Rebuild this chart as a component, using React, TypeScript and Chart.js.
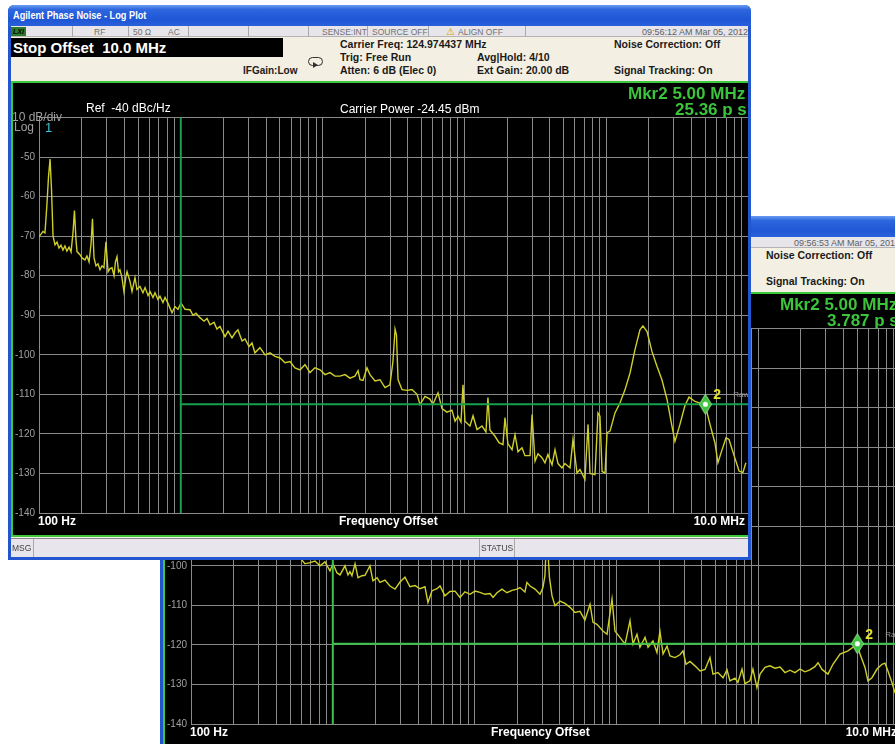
import React, { useEffect, useRef } from "react";
import { Chart, registerables } from "chart.js";

Chart.register(...registerables);

const FONT = "'Liberation Sans', Arial, Helvetica, sans-serif";

// ---- axes ----
const FREQ_MIN_HZ = 100;
const FREQ_MAX_HZ = 10000000;
const DBC_MIN = -140;
const DBC_MAX = -40;
const DBC_STEP = 10;
const Y_LABEL_HIDDEN = -40;
const GRID_FREQS_HZ = [
  100, 200, 300, 400, 500, 600, 700, 800, 900,
  1000, 2000, 3000, 4000, 5000, 6000, 7000, 8000, 9000,
  10000, 20000, 30000, 40000, 50000, 60000, 70000, 80000, 90000,
  100000, 200000, 300000, 400000, 500000, 600000, 700000, 800000, 900000,
  1000000, 2000000, 3000000, 4000000, 5000000, 6000000, 7000000, 8000000, 9000000,
  10000000,
];

// ---- markers / integration range ----
const INTEG_START_HZ = 1000;
const MARKER_HZ = 5000000;
const FRONT_MARKER_DBC = -112.5;
const BACK_MARKER_DBC = -119.7;

// ---- front trace (log10 of offset in Hz, dBc/Hz) ----
const frontLogHz = [
  2.000, 2.014, 2.028, 2.042, 2.056, 2.067, 2.078, 2.088, 2.099, 2.113,
  2.127, 2.141, 2.155, 2.169, 2.183, 2.197, 2.212, 2.226, 2.240, 2.250,
  2.261, 2.268, 2.289, 2.303, 2.324, 2.338, 2.353, 2.367, 2.377, 2.388,
  2.402, 2.416, 2.430, 2.444, 2.458, 2.472, 2.487, 2.501, 2.515, 2.529,
  2.539, 2.550, 2.561, 2.571, 2.585, 2.599, 2.614, 2.621, 2.642, 2.656,
  2.677, 2.691, 2.712, 2.733, 2.748, 2.769, 2.783, 2.804, 2.818, 2.839,
  2.853, 2.874, 2.889, 2.910, 2.938, 2.959, 2.980, 3.001, 3.030, 3.065,
  3.086, 3.107, 3.135, 3.164, 3.185, 3.206, 3.234, 3.255, 3.276, 3.312,
  3.333, 3.361, 3.382, 3.403, 3.432, 3.453, 3.481, 3.502, 3.523, 3.558,
  3.594, 3.629, 3.664, 3.700, 3.735, 3.770, 3.805, 3.841, 3.876, 3.911,
  3.946, 3.982, 4.017, 4.052, 4.087, 4.123, 4.158, 4.193, 4.228, 4.250,
  4.264, 4.285, 4.313, 4.334, 4.370, 4.405, 4.440, 4.475, 4.496, 4.511,
  4.521, 4.532, 4.560, 4.595, 4.630, 4.666, 4.687, 4.722, 4.757, 4.778,
  4.814, 4.842, 4.877, 4.912, 4.934, 4.955, 4.976, 4.990, 5.004, 5.039,
  5.061, 5.089, 5.124, 5.152, 5.166, 5.180, 5.216, 5.244, 5.272, 5.286,
  5.307, 5.336, 5.357, 5.378, 5.406, 5.427, 5.463, 5.477, 5.498, 5.519,
  5.547, 5.568, 5.589, 5.618, 5.639, 5.660, 5.688, 5.709, 5.745, 5.766,
  5.794, 5.815, 5.850, 5.872, 5.886, 5.921, 5.942, 5.956, 5.971, 5.992,
  6.006, 6.027, 6.062, 6.097, 6.133, 6.168, 6.203, 6.238, 6.259, 6.288,
  6.323, 6.358, 6.393, 6.429, 6.464, 6.485, 6.520, 6.555, 6.584, 6.626,
  6.661, 6.697, 6.732, 6.767, 6.788, 6.810, 6.845, 6.866, 6.902, 6.937,
  6.964, 6.985,
];
const frontDbc = [
  -70.1, -69.5, -68.8, -69.2, -62, -55, -50.5, -58, -70, -72.2,
  -71.5, -73, -72.3, -73.5, -72.5, -73.8, -72.8, -74, -69, -63.5,
  -71, -73.9, -74.7, -75.5, -76, -75, -76.5, -72, -65.6, -75.5,
  -77.5, -77, -78.5, -77.5, -78, -71.4, -79, -78.2, -78, -80,
  -76.5, -75.2, -79, -78.5, -80.5, -84, -80, -79, -81.5, -84,
  -80.5, -83.5, -82.7, -84.3, -83, -85, -84, -85.5, -84.3, -86,
  -85.2, -86.8, -85.5, -87, -89.4, -87.8, -88.5, -86.9, -88.5, -88.6,
  -90, -89.5, -90.6, -91.5, -90.8, -92.4, -91.8, -93.5, -92.8, -95.4,
  -94, -95.7, -94.5, -93.7, -96.5, -96, -97.9, -97, -99.5, -98.2,
  -100, -99.5, -100.4, -100.8, -102, -101.7, -103.3, -103.8, -102.5, -104.5,
  -103.3, -103.8, -105, -104.5, -105.4, -105.4, -105, -105.9, -105.4, -104,
  -106.3, -106.5, -103.3, -105, -106.6, -106.3, -108.3, -107.6, -101.7, -93.5,
  -95, -106.3, -108.8, -109, -108.8, -110, -112.6, -110.5, -111.2, -112.5,
  -109.6, -113.6, -114.5, -114, -116.8, -115.5, -117, -107.6, -116.8, -118,
  -115.4, -118.9, -118, -119.5, -110.8, -119, -120.6, -122.2, -122.7, -115.9,
  -122.5, -124, -120.2, -124.5, -123.5, -125.5, -125.5, -115.1, -126.9, -125,
  -126, -127.3, -125.2, -127.8, -124, -127.5, -128.6, -127.5, -128.6, -121.4,
  -129.9, -129, -131.5, -117.6, -130, -130.3, -114.7, -115.5, -129.5, -129.9,
  -119.7, -119.3, -114.7, -112.2, -108.8, -104.6, -98.7, -93.7, -92.7, -94.1,
  -99.2, -102.9, -106.3, -111.3, -118.1, -121.9, -117.6, -112.9, -110.7, -111.8,
  -112.2, -112.5, -117.6, -122.3, -127.3, -124.8, -121, -121.4, -125.5, -129.4,
  -129.8, -127.3,
];

// ---- back trace ----
const backLogHz = [
  2.000, 2.169, 2.346, 2.522, 2.663, 2.769, 2.804, 2.839, 2.874, 2.910,
  2.945, 2.980, 3.001, 3.030, 3.051, 3.086, 3.107, 3.121, 3.135, 3.157,
  3.178, 3.206, 3.227, 3.262, 3.283, 3.312, 3.333, 3.368, 3.403, 3.439,
  3.474, 3.509, 3.544, 3.580, 3.615, 3.650, 3.671, 3.700, 3.735, 3.756,
  3.791, 3.826, 3.862, 3.897, 3.932, 3.968, 4.003, 4.038, 4.073, 4.109,
  4.130, 4.158, 4.193, 4.228, 4.264, 4.299, 4.320, 4.355, 4.369, 4.391,
  4.426, 4.461, 4.482, 4.496, 4.507, 4.518, 4.528, 4.546, 4.567, 4.602,
  4.637, 4.673, 4.708, 4.743, 4.778, 4.814, 4.835, 4.863, 4.905, 4.934,
  4.969, 4.990, 5.025, 5.061, 5.096, 5.117, 5.145, 5.166, 5.202, 5.223,
  5.258, 5.286, 5.307, 5.329, 5.357, 5.378, 5.413, 5.448, 5.470, 5.491,
  5.519, 5.554, 5.590, 5.625, 5.660, 5.681, 5.716, 5.752, 5.780, 5.801,
  5.836, 5.857, 5.886, 5.907, 5.942, 5.963, 5.991, 6.013, 6.048, 6.083,
  6.118, 6.154, 6.189, 6.224, 6.259, 6.295, 6.330, 6.365, 6.400, 6.422,
  6.450, 6.492, 6.527, 6.577, 6.633, 6.668, 6.697, 6.718, 6.753, 6.774,
  6.802, 6.838, 6.873, 6.894, 6.915, 6.943, 6.964, 6.985,
];
const backDbc = [
  -72, -75, -80, -86, -94, -98, -99.5, -99.2, -98.8, -100,
  -99, -101.3, -99.5, -101.8, -102.3, -100, -102.3, -101.5, -102.5, -99.5,
  -103, -102.5, -102.4, -100, -103.8, -103, -104.2, -103.6, -105.1, -105.9,
  -104.1, -102.9, -105.3, -105, -105.8, -105.3, -109.3, -106.3, -105.8, -105.1,
  -107.6, -106.5, -106.4, -108, -106.6, -107.2, -106.4, -106.7, -107.2, -107,
  -108, -106.8, -105.9, -106.8, -106.2, -105.9, -105.5, -106.6, -104.2, -105.1,
  -105.9, -107.2, -105.5, -102.5, -93, -97, -103, -107.6, -110.1, -108.9,
  -109.5, -110.5, -111.8, -111.5, -113.7, -109.7, -114.3, -114.8, -116.5, -117.3,
  -108.4, -116.5, -118.1, -119.8, -113.9, -119.8, -117.3, -120.6, -118.1, -120.6,
  -119, -121.9, -116.5, -122.3, -120.3, -122.8, -123.2, -122.5, -121.5, -124.9,
  -124.2, -125.3, -126.6, -126.2, -123.2, -127.4, -127, -128.3, -126.3, -129.1,
  -128.4, -129.5, -126.1, -129.8, -129.1, -126.1, -130.8, -127.4, -125.7, -125.3,
  -125.9, -125.6, -127, -126.4, -127, -126.1, -126.8, -126.3, -125.5, -124.5,
  -126.2, -127.4, -124.9, -122.3, -121.5, -120.6, -119.8, -122.3, -125.7, -129.1,
  -128.3, -126.1, -124.9, -124.6, -126.6, -129.5, -132, -133,
];

// ---- texts ----
const WINDOW_TITLE = "Agilent Phase Noise - Log Plot";
const FRONT_DATE = "09:56:12 AM Mar 05, 2012";
const BACK_DATE = "09:56:53 AM Mar 05, 2012";
const FRONT_JITTER = "25.36 p s";
const BACK_JITTER = "3.787 p s";

const GRID_COLOR = "#8a8a8a";

function Txt(props: any) {
  const { x, y, size, color = "#000", bold = false, right, scaleX, children } = props;
  return (
    <div
      style={{
        position: "absolute",
        left: right === undefined ? x : undefined,
        right,
        top: y,
        fontSize: size,
        lineHeight: 1,
        color,
        fontWeight: bold ? 700 : 400,
        whiteSpace: "nowrap",
        fontFamily: FONT,
        transform: scaleX ? `scaleX(${scaleX})` : undefined,
        transformOrigin: "left top",
      }}
    >
      {children}
    </div>
  );
}

type WinProps = {
  left: number;
  top: number;
  logHz: number[];
  dbc: number[];
  markerDbc: number;
  date: string;
  jitter: string;
  lineGreen: string;
};

function PhaseNoiseWindow(p: WinProps) {
  const canvasRef = useRef<HTMLCanvasElement | null>(null);

  useEffect(() => {
    const canvas = canvasRef.current;
    if (!canvas) return;

    const diamond = document.createElement("canvas");
    diamond.width = 13;
    diamond.height = 21;
    const d = diamond.getContext("2d")!;
    d.beginPath();
    d.moveTo(6.5, 0.5);
    d.lineTo(12.5, 10.5);
    d.lineTo(6.5, 20.5);
    d.lineTo(0.5, 10.5);
    d.closePath();
    d.fillStyle = "#3cc23c";
    d.fill();
    d.strokeStyle = "#9be89b";
    d.lineWidth = 1;
    d.stroke();
    d.beginPath();
    d.arc(6.5, 10.5, 2.6, 0, Math.PI * 2);
    d.fillStyle = "#ffffff";
    d.fill();

    const trace = p.logHz.map((lf, i) => ({ x: Math.pow(10, lf), y: p.dbc[i] }));

    const markerLabel = {
      id: "markerLabel",
      afterDatasetsDraw(chart: any) {
        const pt = chart.getDatasetMeta(0).data[0];
        if (!pt) return;
        const ctx = chart.ctx;
        ctx.save();
        ctx.textBaseline = "middle";
        ctx.fillStyle = "#e4e42c";
        ctx.font = `bold 14px ${FONT}`;
        ctx.fillText("2", pt.x + 8, pt.y - 9);
        ctx.fillStyle = "#9a9a9a";
        ctx.font = `8px ${FONT}`;
        ctx.fillText("Raw", pt.x + 28, pt.y - 9);
        ctx.restore();
      },
    };

    const chart = new Chart(canvas, {
      type: "line",
      data: {
        datasets: [
          {
            data: [{ x: MARKER_HZ, y: p.markerDbc }],
            pointStyle: diamond as any,
            pointRadius: 8,
            showLine: false,
            borderWidth: 0,
            clip: false,
          },
          {
            data: [
              { x: INTEG_START_HZ, y: DBC_MAX },
              { x: INTEG_START_HZ, y: DBC_MIN },
            ],
            borderColor: p.lineGreen,
            borderWidth: 2,
            pointRadius: 0,
          },
          {
            data: [
              { x: INTEG_START_HZ, y: p.markerDbc },
              { x: FREQ_MAX_HZ, y: p.markerDbc },
            ],
            borderColor: p.lineGreen,
            borderWidth: 2,
            pointRadius: 0,
          },
          {
            data: trace,
            borderColor: "#cfcf2a",
            borderWidth: 1.4,
            pointRadius: 0,
          },
        ],
      } as any,
      options: {
        responsive: false,
        animation: false,
        devicePixelRatio: 1,
        layout: { autoPadding: false, padding: { top: 34.5, bottom: 22, left: 0, right: 0 } },
        plugins: { legend: { display: false }, tooltip: { enabled: false } },
        elements: { line: { tension: 0 } },
        scales: {
          x: {
            type: "logarithmic",
            min: FREQ_MIN_HZ,
            max: FREQ_MAX_HZ,
            afterBuildTicks: (s: any) => {
              s.ticks = GRID_FREQS_HZ.map((v) => ({ value: v }));
            },
            afterFit: (s: any) => {
              s.height = 0;
            },
            ticks: { display: false },
            grid: { color: GRID_COLOR, lineWidth: 1, drawTicks: false },
            border: { display: false },
          },
          y: {
            type: "linear",
            min: DBC_MIN,
            max: DBC_MAX,
            afterFit: (s: any) => {
              s.width = 26;
            },
            ticks: {
              stepSize: DBC_STEP,
              color: "#a0a0a0",
              padding: 4,
              font: { size: 10, family: FONT },
              callback: (v: any) => (v === Y_LABEL_HIDDEN ? "" : String(v)),
            },
            grid: { color: GRID_COLOR, lineWidth: 1, drawTicks: false },
            border: { display: false },
          },
        },
      } as any,
      plugins: [markerLabel],
    });
    return () => chart.destroy();
  }, []);

  const dividers = [64, 120, 180, 240, 300, 359, 420, 517];

  return (
    <div
      style={{
        position: "absolute",
        left: p.left,
        top: p.top,
        width: 743,
        height: 555,
        background: "#2256cf",
        borderRadius: "6px 6px 0 0",
        overflow: "hidden",
        fontFamily: FONT,
      }}
    >
      {/* title bar */}
      <div
        style={{
          position: "absolute",
          left: 0,
          top: 0,
          width: 743,
          height: 21,
          background: "linear-gradient(to bottom, #6a9cf2 0%, #2d66de 22%, #1e56d6 70%, #2a60da 100%)",
        }}
      />
      <Txt x={5} y={5} size={11.5} bold color="#ffffff" scaleX={0.8}>
        {WINDOW_TITLE}
      </Txt>

      {/* content background */}
      <div style={{ position: "absolute", left: 3, top: 21, width: 737, height: 531, background: "#f3efe2" }} />

      {/* status row */}
      <div
        style={{
          position: "absolute",
          left: 3,
          top: 21,
          width: 737,
          height: 11,
          background: "#e7e5ea",
          borderBottom: "1px solid #b4b4b4",
          boxSizing: "border-box",
        }}
      />
      {dividers.map((x) => (
        <div key={x} style={{ position: "absolute", left: x, top: 21, width: 1, height: 11, background: "#a8a8a8" }} />
      ))}
      <div
        style={{
          position: "absolute",
          left: 3,
          top: 22,
          width: 15,
          height: 9,
          background: "#2d7a2d",
          color: "#000",
          fontSize: 7,
          fontWeight: 700,
          fontStyle: "italic",
          lineHeight: "9px",
          textAlign: "center",
          fontFamily: FONT,
        }}
      >
        LXI
      </div>
      <Txt x={86} y={23} size={8.5} color="#707070">RF</Txt>
      <Txt x={125} y={23} size={8.5} color="#707070">50 Ω</Txt>
      <Txt x={160} y={23} size={8.5} color="#707070">AC</Txt>
      <Txt x={314} y={23} size={8.5} color="#707070">SENSE:INT</Txt>
      <Txt x={364} y={23} size={8.5} color="#707070">SOURCE OFF</Txt>
      <Txt x={438} y={22} size={10} color="#d8a800">⚠</Txt>
      <Txt x={450} y={23} size={8.5} color="#707070">ALIGN OFF</Txt>
      <Txt right={3} y={23} size={9} color="#606060">{p.date}</Txt>

      {/* stop offset box */}
      <div style={{ position: "absolute", left: 3, top: 33, width: 272, height: 19, background: "#000" }} />
      <Txt x={5} y={35} size={15} bold color="#ffffff">Stop Offset&nbsp;&nbsp;10.0 MHz</Txt>

      {/* info panel */}
      <Txt x={235} y={61} size={10} bold color="#202020">IFGain:Low</Txt>
      <div
        style={{
          position: "absolute",
          left: 300,
          top: 52,
          width: 13,
          height: 7,
          border: "1.5px solid #303030",
          borderRadius: 5,
        }}
      />
      <div
        style={{
          position: "absolute",
          left: 305,
          top: 57,
          width: 0,
          height: 0,
          borderTop: "3px solid transparent",
          borderBottom: "3px solid transparent",
          borderLeft: "5px solid #303030",
        }}
      />
      <Txt x={332} y={34} size={10.5} bold color="#1a1a1a">Carrier Freq: 124.974437 MHz</Txt>
      <Txt x={332} y={47} size={10.5} bold color="#1a1a1a">Trig: Free Run</Txt>
      <Txt x={332} y={60} size={10.5} bold color="#1a1a1a">Atten: 6 dB (Elec 0)</Txt>
      <Txt x={469} y={47} size={10.5} bold color="#1a1a1a">Avg|Hold: 4/10</Txt>
      <Txt x={469} y={60} size={10.5} bold color="#1a1a1a">Ext Gain: 20.00 dB</Txt>
      <Txt x={606} y={34} size={10.5} bold color="#1a1a1a">Noise Correction: Off</Txt>
      <Txt x={606} y={60} size={10.5} bold color="#1a1a1a">Signal Tracking: On</Txt>

      {/* plot frame */}
      <div
        style={{
          position: "absolute",
          left: 3,
          top: 76,
          width: 737,
          height: 456,
          background: "#000",
          borderTop: "2px solid #3cc83c",
          borderLeft: "2px solid #3cc83c",
          borderBottom: "2px solid #3cc83c",
          boxSizing: "border-box",
        }}
      />
      <canvas
        ref={canvasRef}
        width={735}
        height={452}
        style={{ position: "absolute", left: 5, top: 78, width: 735, height: 452, display: "block" }}
      />
      <Txt x={620} y={80} size={17} bold color="#3cc43c">Mkr2 5.00 MHz</Txt>
      <Txt x={667} y={96} size={17} bold color="#3cc43c">{p.jitter}</Txt>
      <Txt x={4} y={106} size={12} color="#a0a0a0">10 dB/div</Txt>
      <Txt x={6} y={116} size={12} color="#a0a0a0">Log</Txt>
      <Txt x={37} y={116} size={13} color="#3fc6d6">1</Txt>
      <Txt x={78} y={97} size={12} color="#ffffff">Ref&nbsp;&nbsp;-40 dBc/Hz</Txt>
      <Txt x={332} y={98} size={12} color="#ffffff">Carrier Power -24.45 dBm</Txt>
      <Txt x={30} y={510} size={12} bold color="#ffffff">100 Hz</Txt>
      <Txt x={331} y={510} size={12} bold color="#ffffff">Frequency Offset</Txt>
      <Txt right={6} y={510} size={12} bold color="#ffffff">10.0 MHz</Txt>

      {/* message bar */}
      <div
        style={{
          position: "absolute",
          left: 3,
          top: 533,
          width: 737,
          height: 19,
          background: "#e8e6ec",
          borderTop: "1px solid #8a8a8a",
          boxSizing: "border-box",
        }}
      />
      <div style={{ position: "absolute", left: 25, top: 534, width: 1, height: 18, background: "#a8a8a8" }} />
      <div style={{ position: "absolute", left: 471, top: 534, width: 1, height: 18, background: "#a8a8a8" }} />
      <div style={{ position: "absolute", left: 506, top: 534, width: 1, height: 18, background: "#a8a8a8" }} />
      <Txt x={4} y={539} size={8.5} color="#404040">MSG</Txt>
      <Txt x={473} y={539} size={8.5} color="#404040">STATUS</Txt>
    </div>
  );
}

export default function App() {
  return (
    <div
      style={{
        position: "fixed",
        left: 0,
        top: 0,
        width: 895,
        height: 744,
        overflow: "hidden",
        background: "#ffffff",
      }}
    >
      <PhaseNoiseWindow
        left={160}
        top={216}
        logHz={backLogHz}
        dbc={backDbc}
        markerDbc={BACK_MARKER_DBC}
        date={BACK_DATE}
        jitter={BACK_JITTER}
        lineGreen="#3cc24a"
      />
      <PhaseNoiseWindow
        left={8}
        top={5}
        logHz={frontLogHz}
        dbc={frontDbc}
        markerDbc={FRONT_MARKER_DBC}
        date={FRONT_DATE}
        jitter={FRONT_JITTER}
        lineGreen="#17a04e"
      />
    </div>
  );
}
